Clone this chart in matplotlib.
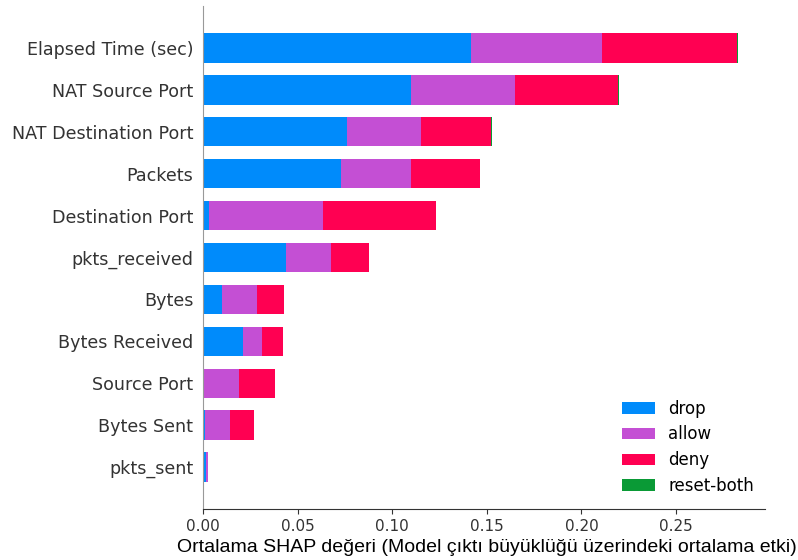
import matplotlib
matplotlib.use("Agg")
import matplotlib.pyplot as plt
import numpy as np

# feature names, top to bottom
features = ["Elapsed Time (sec)", "NAT Source Port", "NAT Destination Port", "Packets",
            "Destination Port", "pkts_received", "Bytes", "Bytes Received",
            "Source Port", "Bytes Sent", "pkts_sent"]

classes = ["drop", "allow", "deny", "reset-both"]
class_colors = ["#008bfb", "#c44fd4", "#ff0052", "#0a9a36"]

# mean |SHAP| per class
drop = [0.1415, 0.1100, 0.0761, 0.0731, 0.0034, 0.0440, 0.0102, 0.0212, 0.0004, 0.0011, 0.0018]
allow = [0.0696, 0.0547, 0.0393, 0.0371, 0.0601, 0.0235, 0.0184, 0.0100, 0.0188, 0.0134, 0.0010]
deny = [0.0709, 0.0548, 0.0370, 0.0362, 0.0596, 0.0205, 0.0144, 0.0113, 0.0188, 0.0126, 0.0000]
reset_both = [0.0009, 0.0004, 0.0001, 0.0001, 0.0000, 0.0000, 0.0000, 0.0000, 0.0000, 0.0000, 0.0000]

series = [drop, allow, deny, reset_both]

fig = plt.figure(figsize=(7.98, 5.6), dpi=100)
ax = fig.add_axes([203 / 798, 1 - 509 / 560, (765 - 203) / 798, 503 / 560])

n = len(features)
ypos = np.arange(n)[::-1]
left = np.zeros(n)
for name, vals, col in zip(classes, series, class_colors):
    ax.barh(ypos, vals, 0.7, left=left, color=col, label=name, align="center")
    left += np.array(vals)

ax.set_yticks(ypos)
ax.set_yticklabels(features, fontsize=12.6, color="#333333")
ax.set_ylim(-1, n)
ax.tick_params(axis="y", length=0, pad=7)
ax.tick_params(axis="x", labelsize=11, labelcolor="#333333", color="#333333")
ax.xaxis.set_major_locator(plt.MultipleLocator(0.05))
ax.set_xlim(0, left.max() * 1.05)

for s in ["top", "right"]:
    ax.spines[s].set_visible(False)
ax.spines["left"].set_color("#999999")
ax.spines["bottom"].set_color("#333333")

ax.set_xlabel("Ortalama SHAP değeri (Model çıktı büyüklüğü üzerindeki ortalama etki)",
              fontsize=14, family="Liberation Sans", color="black")
ax.xaxis.set_label_coords(0.506, -0.06)

ax.legend(frameon=False, fontsize=12, loc="lower right", bbox_to_anchor=(1.007, -0.002),
          handlelength=1.95, labelspacing=0.47)

fig.savefig("out.png", dpi=100)
